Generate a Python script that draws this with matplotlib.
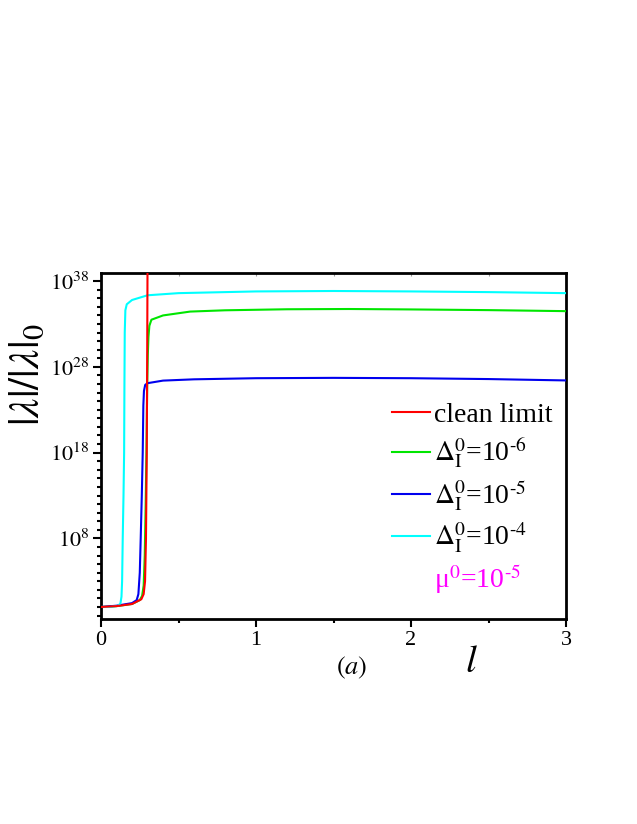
import numpy as np
import matplotlib
matplotlib.use("Agg")
import matplotlib.pyplot as plt
from matplotlib.lines import Line2D
from matplotlib.ticker import FixedLocator, NullFormatter

plt.rcParams["font.family"] = ["Liberation Serif", "DejaVu Serif"]
plt.rcParams["mathtext.fontset"] = "stix"

# -- data: l and log10(|lambda|/|lambda|_0) --
l_clean = [0, 0.10, 0.20, 0.26, 0.275, 0.284, 0.290, 0.295, 0.298, 0.300, 0.301]
y_clean = [0, 0.10, 0.35, 0.90, 1.5, 3.0, 8.0, 18.0, 30.0, 40.0, 45.0]

l_d6 = [0, 0.10, 0.20, 0.25, 0.265, 0.275, 0.282, 0.288, 0.293, 0.298, 0.302,
        0.306, 0.312, 0.325, 0.40, 0.575, 0.80, 1.20, 1.60, 2.00, 2.50, 3.00]
y_d6 = [0, 0.10, 0.35, 0.80, 1.3, 2.5, 6.0, 12.0, 18.0, 26.0, 29.5,
        31.5, 32.8, 33.5, 34.0, 34.45, 34.6, 34.72, 34.75, 34.7, 34.62, 34.5]

l_d5 = [0, 0.10, 0.20, 0.23, 0.241, 0.250, 0.256, 0.263, 0.269, 0.273, 0.277,
        0.285, 0.30, 0.40, 0.60, 1.00, 1.50, 2.00, 2.50, 3.00]
y_d5 = [0, 0.15, 0.45, 0.80, 1.5, 4.0, 8.0, 13.0, 18.0, 23.5, 25.2,
        25.9, 26.1, 26.4, 26.55, 26.68, 26.72, 26.68, 26.58, 26.42]

l_d4 = [0, 0.06, 0.11, 0.125, 0.132, 0.136, 0.140, 0.145, 0.149, 0.151, 0.153,
        0.157, 0.166, 0.20, 0.30, 0.50, 1.00, 1.50, 2.00, 2.50, 3.00]
y_d4 = [0, 0.0, 0.15, 0.40, 1.2, 3.0, 8.0, 13.0, 18.0, 26.0, 32.0,
        34.6, 35.3, 35.8, 36.35, 36.6, 36.8, 36.85, 36.8, 36.72, 36.6]

labels = ["clean limit",
          r"$\Delta_{\mathrm{I}}^{0}$=10$^{\text{-}6}$",
          r"$\Delta_{\mathrm{I}}^{0}$=10$^{\text{-}5}$",
          r"$\Delta_{\mathrm{I}}^{0}$=10$^{\text{-}4}$"]
colors = ["#ff0000", "#00e600", "#0000ee", "#00ffff"]
mu_label = "\u03bc$^{0}$=10$^{\\text{-}5}$"

yticks_exp = [8, 18, 28, 38]

fig = plt.figure(figsize=(6.37, 8.24), dpi=100)
ax = fig.add_axes([0.1586, 0.2488, 0.7300, 0.4199])

series = [(l_clean, y_clean), (l_d6, y_d6), (l_d5, y_d5), (l_d4, y_d4)]
zorders = [6, 3, 4, 5]
for (lx, ly), c, lab, z in zip(series, colors, labels, zorders):
    ax.plot(lx, 10.0 ** np.array(ly), color=c, lw=1.5, label=lab, zorder=z)

ax.set_yscale("log")
ax.set_xlim(0, 3)
ax.set_ylim(10 ** -1.4, 10 ** 38.95)

ax.set_xticks([0, 1, 2, 3])
ax.set_xticklabels(["0", "1", "2", "3"])
ax.xaxis.set_minor_locator(FixedLocator([0.5, 1.5, 2.5]))
ax.set_yticks([10.0 ** e for e in yticks_exp])
ax.set_yticklabels([rf"$10^{{{e}}}$" for e in yticks_exp])
ax.yaxis.set_minor_locator(FixedLocator([10.0 ** e for e in range(-1, 39)]))
ax.yaxis.set_minor_formatter(NullFormatter())

ax.tick_params(which="major", direction="out", length=5.5, width=1.5,
               labelsize=16, pad=3)
ax.tick_params(which="minor", direction="out", length=3, width=1.5)
for s in ax.spines.values():
    s.set_linewidth(2)

# faint inner ticks on top
sx = ax.secondary_xaxis("top")
sx.set_xticks([0, 0.5, 1, 1.5, 2, 2.5, 3])
sx.tick_params(direction="in", length=2.5, width=0.8, color="0.6", labeltop=False)
sx.spines["top"].set_visible(False)

# legend
handles = [Line2D([], [], color=c, lw=1.5) for c in colors]
handles.append(Line2D([], [], color="none"))
leg = ax.legend(handles, labels + [mu_label], loc="upper left",
                bbox_to_anchor=(0.626, 0.626), frameon=False, fontsize=20,
                handlelength=1.35, handletextpad=0.15, labelspacing=0.28,
                borderpad=0, borderaxespad=0)
for txt, c in zip(leg.get_texts(), ["black"] * 4 + ["#ff00ff"]):
    txt.set_color(c)

fig.text(29 / 637, 1 - 375 / 824, r"$|\lambda|/|\lambda|_{0}$", rotation=90,
         ha="center", va="center", fontsize=31)
fig.text(352 / 637, 1 - 668 / 824, r"$(a)$", ha="center", va="center", fontsize=19)
fig.text(471 / 637, 1 - 663 / 824, r"$l$", ha="center", va="center", fontsize=28)

fig.savefig("out.png", dpi=100)
